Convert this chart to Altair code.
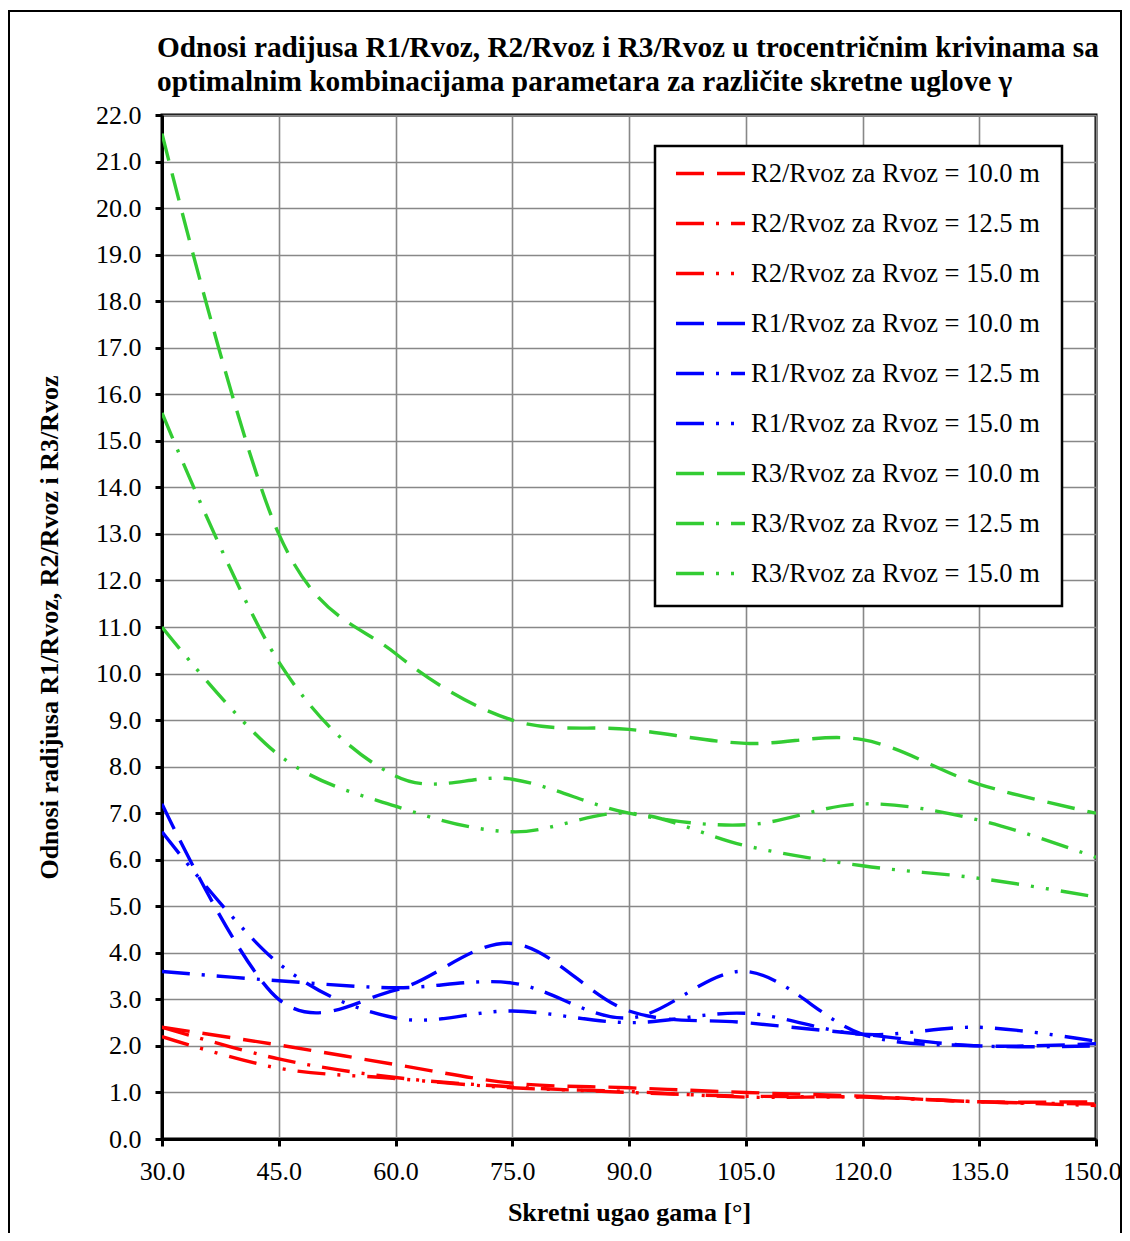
import altair as alt
import pandas as pd

# ---- data ----
angles = [30, 45, 60, 75, 90, 105, 120, 135, 150]

series_names = [
    "R2/Rvoz za Rvoz = 10.0 m",
    "R2/Rvoz za Rvoz = 12.5 m",
    "R2/Rvoz za Rvoz = 15.0 m",
    "R1/Rvoz za Rvoz = 10.0 m",
    "R1/Rvoz za Rvoz = 12.5 m",
    "R1/Rvoz za Rvoz = 15.0 m",
    "R3/Rvoz za Rvoz = 10.0 m",
    "R3/Rvoz za Rvoz = 12.5 m",
    "R3/Rvoz za Rvoz = 15.0 m",
]

r2_100 = [2.40, 2.02, 1.60, 1.20, 1.10, 1.00, 0.92, 0.80, 0.80]
r2_125 = [2.40, 1.72, 1.32, 1.12, 1.00, 0.92, 0.90, 0.80, 0.72]
r2_150 = [2.20, 1.52, 1.30, 1.10, 1.02, 0.90, 0.90, 0.80, 0.75]
r1_100 = [7.20, 3.00, 3.20, 4.20, 2.75, 2.50, 2.25, 2.00, 2.05]
r1_125 = [3.60, 3.40, 3.25, 3.35, 2.60, 3.60, 2.25, 2.00, 2.00]
r1_150 = [6.60, 3.77, 2.60, 2.75, 2.50, 2.70, 2.25, 2.40, 2.10]
r3_100 = [21.6, 13.0, 10.43, 9.00, 8.80, 8.50, 8.58, 7.62, 7.00]
r3_125 = [15.6, 10.25, 7.80, 7.73, 7.00, 6.75, 7.20, 6.85, 6.05]
r3_150 = [11.0, 8.25, 7.15, 6.60, 7.00, 6.30, 5.87, 5.60, 5.20]

all_values = [r2_100, r2_125, r2_150, r1_100, r1_125, r1_150, r3_100, r3_125, r3_150]

x_ticks = [30, 45, 60, 75, 90, 105, 120, 135, 150]
y_ticks = list(range(0, 23))

series_colors = ["#FF0000"] * 3 + ["#0000FF"] * 3 + ["#33CC33"] * 3
dash_long = [28, 13]
dash_dot = [28, 12, 3, 12]
dash_dot_dot = [28, 12, 3, 12, 3, 12]
series_dashes = [dash_long, dash_dot, dash_dot_dot] * 3

rows = []
for name, vals in zip(series_names, all_values):
    for a, v in zip(angles, vals):
        rows.append({"series": name, "angle": a, "ratio": v})
df = pd.DataFrame(rows)

FONT = "Liberation Serif"


def make_legend():
    return alt.Legend(
        orient="none", legendX=512, legendY=22, title=None,
        symbolType="stroke", symbolSize=4761,
        symbolStrokeWidth=3.4, labelFont=FONT, labelFontSize=26.5,
        labelColor="black", rowPadding=-15, padding=0,
        labelOffset=4, labelLimit=600)


# white legend box (drawn above the grid, under the legend entries)
legend_box = alt.Chart(pd.DataFrame({"k": [0]})).mark_rect(
    fill="white", stroke="black", strokeWidth=2.5, clip=False
).encode(
    x=alt.value(493), x2=alt.value(900),
    y=alt.value(31), y2=alt.value(491),
)

lines = alt.Chart(df).mark_line(
    interpolate="cardinal", strokeWidth=3.4, strokeCap="butt", clip=True
).encode(
    x=alt.X("angle:Q",
            scale=alt.Scale(domain=[30, 150], nice=False, zero=False),
            axis=alt.Axis(values=x_ticks, format=".1f", labelFlush=False,
                          labelOverlap=False,
                          labelOffset=alt.condition("datum.value == 150",
                                                    alt.value(-4), alt.value(0)),
                          title="Skretni ugao gama [°]")),
    y=alt.Y("ratio:Q",
            scale=alt.Scale(domain=[0, 22], nice=False),
            axis=alt.Axis(values=y_ticks, format=".1f", labelFlush=False,
                          labelOverlap=False,
                          title="Odnosi radijusa R1/Rvoz, R2/Rvoz i R3/Rvoz",
                          titlePadding=33, labelPadding=14)),
    color=alt.Color("series:N",
                    scale=alt.Scale(domain=series_names, range=series_colors),
                    sort=series_names, legend=make_legend()),
    strokeDash=alt.StrokeDash("series:N",
                              scale=alt.Scale(domain=series_names, range=series_dashes),
                              sort=series_names, legend=make_legend()),
    detail="series:N",
)

frame = alt.Chart(pd.DataFrame({"k": [0]})).mark_rect(
    filled=False, stroke="black", strokeWidth=2, clip=False
).encode(
    x=alt.value(-153), x2=alt.value(959),
    y=alt.value(-104), y2=alt.value(1135),
)

chart = alt.layer(lines, legend_box, frame).properties(
    width=934,
    height=1024,
    title=alt.Title(
        text=["Odnosi radijusa R1/Rvoz, R2/Rvoz i R3/Rvoz u trocentričnim krivinama sa",
              "optimalnim kombinacijama parametara za različite skretne uglove γ"],
        anchor="start", frame="group", dx=-5, dy=116, offset=0, baseline="bottom",
        font=FONT, fontSize=29.3, fontWeight="bold", color="black", lineHeight=34),
    autosize=alt.AutoSizeParams(type="none"),
    padding={"left": 154, "top": 107, "right": 26, "bottom": 94},
).configure(
    background="white"
).configure_view(
    stroke="black", strokeWidth=3
).configure_axis(
    labelFont=FONT, labelFontSize=26, labelColor="black",
    titleFont=FONT, titleFontSize=26, titleFontWeight="bold", titleColor="black",
    domainColor="black", domainWidth=3, tickColor="black", tickWidth=3, tickSize=7,
    gridColor="#888888", gridWidth=1.6, gridOpacity=1,
).configure_axisX(
    labelPadding=12, titlePadding=15
)

chart.save("out.html", embed_options={"renderer": "svg", "actions": False})
